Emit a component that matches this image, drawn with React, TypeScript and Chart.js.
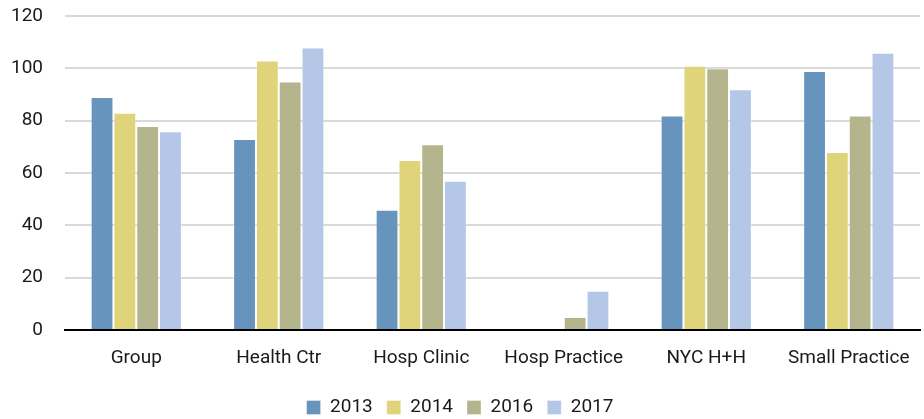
import React, { useEffect, useRef } from "react";
import { Chart, registerables } from "chart.js";

Chart.register(...registerables);

const categories = ["Group", "Health Ctr", "Hosp Clinic", "Hosp Practice", "NYC H+H", "Small Practice"];
const seriesNames = ["2013", "2014", "2016", "2017"];
const values2013 = [89, 73, 46, null, 82, 99];
const values2014 = [83, 103, 65, null, 101, 68];
const values2016 = [78, 95, 71, 5, 100, 82];
const values2017 = [76, 108, 57, 15, 92, 106];
const colors = ["#6794BD", "#E0D47B", "#B4B58D", "#B4C7E7"];
const yTicks = [0, 20, 40, 60, 80, 100, 120];

const FONT = "Roboto, sans-serif";
const FS = 19;

export default function App() {
  const ref = useRef<HTMLCanvasElement | null>(null);
  useEffect(() => {
    document.body.style.margin = "0";
    const series = [values2013, values2014, values2016, values2017];
    const chart = new Chart(ref.current!, {
      type: "bar",
      data: {
        labels: categories,
        datasets: series.map((d, i) => ({
          label: seriesNames[i],
          data: d,
          backgroundColor: colors[i],
          borderColor: "rgba(255,255,255,0.35)",
          borderWidth: 1,
          barPercentage: 1,
          categoryPercentage: 0.64,
        })),
      },
      options: {
        animation: false,
        responsive: false,
        maintainAspectRatio: false,
        layout: { padding: { left: 0, right: 4, top: 0, bottom: -8 } },
        plugins: {
          legend: {
            position: "bottom",
            labels: {
              boxWidth: 14,
              boxHeight: 14,
              padding: 14,
              color: "#1a1a1a",
              font: { family: FONT, size: FS },
            },
          },
          tooltip: { enabled: false },
        },
        scales: {
          x: {
            grid: { display: false },
            border: { display: true, color: "#000", width: 2 },
            afterFit: (axis: any) => {
              axis.height = 54;
            },
            ticks: {
              color: "#1a1a1a",
              padding: 9,
              maxRotation: 0,
              minRotation: 0,
              autoSkip: false,
              font: { family: FONT, size: FS },
            },
          },
          y: {
            min: 0,
            max: 120,
            afterBuildTicks: (axis: any) => {
              axis.ticks = yTicks.map((v) => ({ value: v }));
            },
            afterFit: (axis: any) => {
              axis.paddingTop = 16;
              axis.paddingBottom = 0;
              axis.width = 65;
            },
            grid: { color: "#d9d9d9", lineWidth: 2, drawTicks: false },
            border: { display: false },
            ticks: { color: "#1a1a1a", padding: 22, font: { family: FONT, size: FS } },
          },
        },
      },
    });
    return () => chart.destroy();
  }, []);
  return (
    <div style={{ position: "fixed", left: 0, top: 0, width: 924, height: 419 }}>
      <canvas ref={ref} width={924} height={419} style={{ width: 924, height: 419 }} />
    </div>
  );
}
